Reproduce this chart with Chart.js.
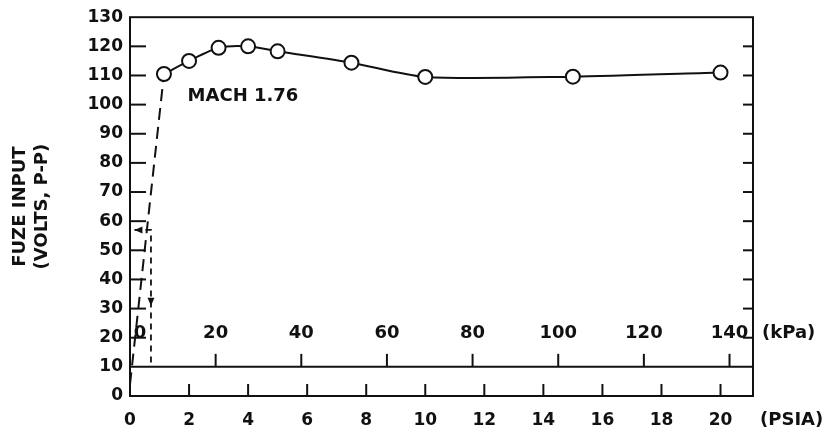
<!DOCTYPE html>
<html>
<head>
<meta charset="utf-8">
<script src="https://cdn.jsdelivr.net/npm/chart.js@4.4.1/dist/chart.umd.min.js"></script>
<style>
  html, body { margin: 0; padding: 0; background: #fff; }
  #wrap { width: 829px; height: 448px; }
</style>
</head>
<body>
<div id="wrap"><canvas id="fuzeChart" width="829" height="448"></canvas></div>
<script>
// Fuze input vs. pressure at Mach 1.76
const psia = [1.15, 2, 3, 4, 5, 7.5, 10, 15, 20];
const volts = [110.5, 115, 119.5, 120, 118.3, 114.4, 109.5, 109.6, 111];

// dashed rise up to the first measured point
const rampPsia = [0, 1.15];
const rampVolts = [4, 110.5];

// dashed reading guide: 57 V across to the axis, then down to ~0.7 psia
const guidePsia = [0.15, 0.71, 0.71];
const guideVolts = [57, 57, 11];
const guideArrowVolts = 31;

const yTicks = [0, 10, 20, 30, 40, 50, 60, 70, 80, 90, 100, 110, 120, 130];
const psiaTicks = [0, 2, 4, 6, 8, 10, 12, 14, 16, 18, 20];
const kpaTicks = [0, 20, 40, 60, 80, 100, 120, 140];
const KPA_PER_PSI = 6.895;
const kpaAxisVolts = 10;

const machLabel = 'MACH 1.76';
const machAt = { x: 1.95, y: 103 };

const ink = '#111';
const tickFont = { family: 'DejaVu Sans', size: 17, weight: 'bold' };
const labelFont = 'bold 18px "DejaVu Sans"';

const toPoints = (xs, ys) => xs.map((x, i) => ({ x: x, y: ys[i] }));

// frame, inward ticks, the kPa scale and the loose labels
const framePlugin = {
    id: 'frame',
    afterDatasetsDraw(chart) {
        const { ctx, chartArea: a, scales: { x, y } } = chart;
        const line = (x1, y1, x2, y2) => {
            ctx.beginPath();
            ctx.moveTo(x1, y1);
            ctx.lineTo(x2, y2);
            ctx.stroke();
        };
        ctx.save();
        ctx.strokeStyle = ink;
        ctx.fillStyle = ink;
        ctx.lineWidth = 2;
        ctx.strokeRect(a.left, a.top, a.right - a.left, a.bottom - a.top);

        const yk = y.getPixelForValue(kpaAxisVolts);
        line(a.left, yk, a.right, yk);

        yTicks.forEach(v => {
            if (v <= kpaAxisVolts || v >= 130) return;
            const py = y.getPixelForValue(v);
            line(a.left, py, a.left + 16, py);
            line(a.right, py, a.right - 10, py);
        });

        psiaTicks.forEach(v => {
            if (v === 0) return;
            const px = x.getPixelForValue(v);
            line(px, a.bottom, px, a.bottom - 12);
        });

        ctx.font = labelFont;
        ctx.textAlign = 'center';
        ctx.textBaseline = 'middle';
        kpaTicks.forEach(k => {
            const px = x.getPixelForValue(k / KPA_PER_PSI);
            if (k > 0) line(px, yk, px, yk - 13);
            ctx.fillText(String(k), k === 0 ? px + 10 : px, yk - 34);
        });

        ctx.textAlign = 'left';
        ctx.fillText('(kPa)', a.right + 9, yk - 34);
        ctx.fillText('(PSIA)', a.right + 7, a.bottom + 24);
        ctx.fillText(machLabel, x.getPixelForValue(machAt.x), y.getPixelForValue(machAt.y));

        // arrowheads on the reading guide
        const ax = x.getPixelForValue(guidePsia[0]);
        const ay = y.getPixelForValue(guideVolts[0]);
        ctx.beginPath();
        ctx.moveTo(ax, ay);
        ctx.lineTo(ax + 8, ay - 3.5);
        ctx.lineTo(ax + 8, ay + 3.5);
        ctx.closePath();
        ctx.fill();

        const dx = x.getPixelForValue(guidePsia[2]);
        const dy = y.getPixelForValue(guideArrowVolts);
        ctx.beginPath();
        ctx.moveTo(dx, dy);
        ctx.lineTo(dx - 3.5, dy - 8);
        ctx.lineTo(dx + 3.5, dy - 8);
        ctx.closePath();
        ctx.fill();
        ctx.restore();
    }
};

const ctx = document.getElementById('fuzeChart').getContext('2d');
new Chart(ctx, {
    type: 'scatter',
    data: {
        datasets: [
            {
                data: toPoints(psia, volts),
                showLine: true,
                borderColor: ink,
                borderWidth: 2,
                tension: 0.25,
                pointRadius: 7,
                pointBackgroundColor: '#fff',
                pointBorderColor: ink,
                pointBorderWidth: 2
            },
            {
                data: toPoints(rampPsia, rampVolts),
                showLine: true,
                borderColor: ink,
                borderWidth: 2,
                borderDash: [12, 7],
                pointRadius: 0
            },
            {
                data: toPoints(guidePsia, guideVolts),
                showLine: true,
                borderColor: ink,
                borderWidth: 1.8,
                borderDash: [6, 5],
                pointRadius: 0
            }
        ]
    },
    options: {
        responsive: false,
        animation: false,
        layout: { padding: { top: 15, right: 76, left: 0, bottom: 0 } },
        plugins: {
            legend: { display: false },
            tooltip: { enabled: false }
        },
        scales: {
            x: {
                type: 'linear',
                min: 0,
                max: 21.1,
                afterBuildTicks: scale => { scale.ticks = psiaTicks.map(v => ({ value: v })); },
                afterFit: scale => { scale.height = 52; },
                grid: { display: false, drawTicks: false },
                border: { display: false },
                ticks: {
                    font: tickFont,
                    color: ink,
                    padding: 14,
                    maxRotation: 0,
                    autoSkip: false
                }
            },
            y: {
                min: 0,
                max: 130,
                afterBuildTicks: scale => { scale.ticks = yTicks.map(v => ({ value: v })); },
                afterFit: scale => { scale.width = 130; },
                grid: { display: false, drawTicks: false },
                border: { display: false },
                ticks: {
                    font: tickFont,
                    color: ink,
                    padding: 7,
                    autoSkip: false
                },
                title: {
                    display: true,
                    text: ['FUZE INPUT', '(VOLTS, P-P)'],
                    color: ink,
                    font: { family: 'DejaVu Sans', size: 18, weight: 'bold' },
                    padding: { top: 10, bottom: 0 }
                }
            }
        }
    },
    plugins: [framePlugin]
});
</script>
</body>
</html>
